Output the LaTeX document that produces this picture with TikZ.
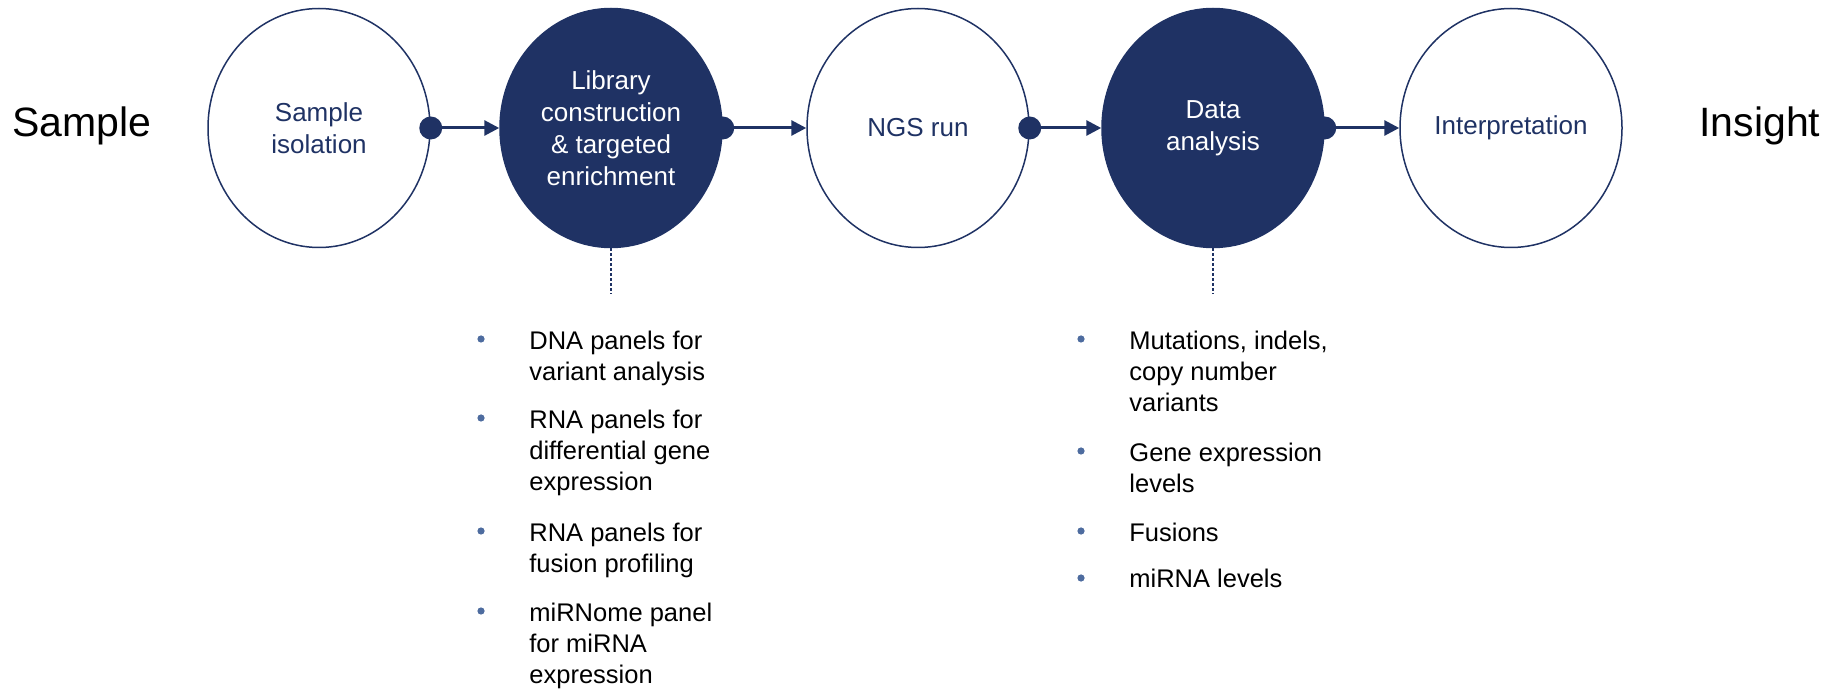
\documentclass[tikz,border=0pt]{standalone}
\usepackage{fontspec}
\setmainfont{Liberation Sans}
\usetikzlibrary{shapes.geometric,arrows.meta}
\definecolor{navy}{HTML}{1F3264}
\definecolor{bulletblue}{HTML}{4E6C9F}
\newcommand{\itemlines}[1]{\begin{tabular}[t]{@{}l@{}}#1\end{tabular}}
\begin{document}
\begin{tikzpicture}[x=0.5pt,y=-0.5pt,
  stage/.style={ellipse,draw=navy,line width=0.75pt,minimum width=111pt,minimum height=119.5pt,inner sep=0pt,align=center,font=\fontsize{13}{16}\selectfont},
  openstage/.style={stage,fill=white,text=navy},
  fullstage/.style={stage,fill=navy,text=white},
  knob/.style={circle,fill=navy,minimum size=11.5pt,inner sep=0pt},
  flow/.style={draw=navy,line width=1.5pt,-{Triangle[length=7.5pt,width=7.5pt]}},
  endlabel/.style={anchor=base west,inner sep=0pt,font=\fontsize{20.5}{24}\selectfont},
  listitem/.style={anchor=base west,inner sep=0pt,font=\fontsize{12.75}{15.5}\selectfont},
  bul/.style={circle,fill=bulletblue,minimum size=3.6pt,inner sep=0pt},
  lead/.style={draw=navy,line width=0.6pt,dash pattern=on 1.5pt off 1pt}]
\useasboundingbox (0,0) rectangle (1843,689);

\node[endlabel] (sample) at (12,137) {Sample};
\node[endlabel] (insight) at (1699,137) {Insight};

\node[openstage] (c1) at (319,128) {Sample\\isolation};
\node[fullstage] (c2) at (611,128) {Library\\construction\\\& targeted\\enrichment};
\node[openstage] (c3) at (918,128) {NGS run};
\node[fullstage] (c4) at (1213,128) {Data\\analysis};
\node[openstage] (c5) at (1511,128) {Interpretation};

\foreach \a/\b in {c1/c2,c2/c3,c3/c4,c4/c5}{
  \node[knob] (k\a) at (\a.east) {};
  \draw[flow] (k\a.center) -- (\b.west);
}

\coordinate (d2) at (611,294);
\coordinate (d4) at (1213,294);
\draw[lead] (c2.south) -- (d2);
\draw[lead] (c4.south) -- (d4);

% left list
\node[bul] (lb1) at (481,339) {};
\node[listitem] (li1) at (529,350) {\itemlines{DNA panels for\\variant analysis}};
\node[bul] (lb2) at (481,418) {};
\node[listitem] (li2) at (529,429) {\itemlines{RNA panels for\\differential gene\\expression}};
\node[bul] (lb3) at (481,531) {};
\node[listitem] (li3) at (529,542) {\itemlines{RNA panels for\\fusion profiling}};
\node[bul] (lb4) at (481,611) {};
\node[listitem] (li4) at (529,622) {\itemlines{miRNome panel\\for miRNA\\expression}};

% right list
\node[bul] (rb1) at (1081,339) {};
\node[listitem] (ri1) at (1129,350) {\itemlines{Mutations, indels,\\copy number\\variants}};
\node[bul] (rb2) at (1081,451) {};
\node[listitem] (ri2) at (1129,462) {\itemlines{Gene expression\\levels}};
\node[bul] (rb3) at (1081,531) {};
\node[listitem] (ri3) at (1129,542) {\itemlines{Fusions}};
\node[bul] (rb4) at (1081,578) {};
\node[listitem] (ri4) at (1129,588) {\itemlines{miRNA levels}};
\end{tikzpicture}
\end{document}
